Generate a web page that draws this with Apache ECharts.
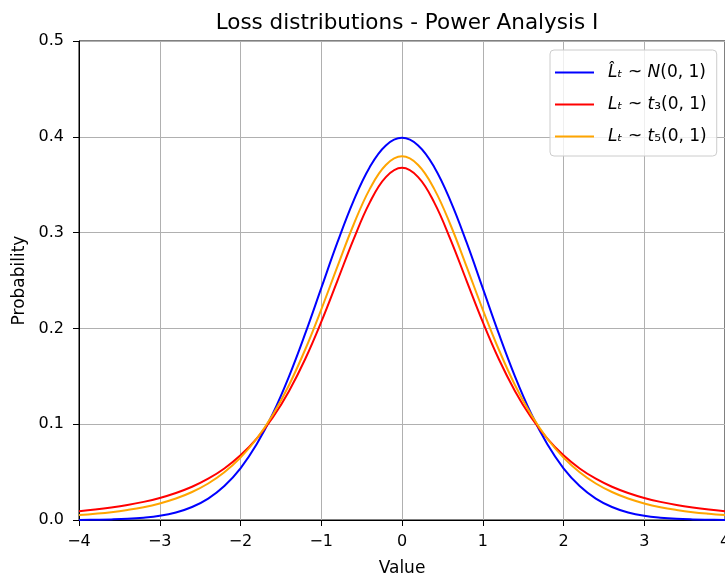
<!DOCTYPE html>
<html><head><meta charset="utf-8">
<script src="https://cdn.jsdelivr.net/npm/echarts@6/dist/echarts.min.js"></script>
<style>html,body{margin:0;padding:0;background:#fff}#c{width:725px;height:577px}</style>
</head><body><div id="c"></div>
<script>
const xValues = [-4.0,-3.8,-3.6,-3.4,-3.2,-3.0,-2.8,-2.6,-2.4,-2.2,-2.0,-1.8,-1.6,-1.4,-1.2,-1.0,-0.8,-0.6,-0.4,-0.2,0.0,0.2,0.4,0.6,0.8,1.0,1.2,1.4,1.6,1.8,2.0,2.2,2.4,2.6,2.8,3.0,3.2,3.4,3.6,3.8,4.0];
const normalHalf = [0.3989,0.3910,0.3683,0.3332,0.2897,0.2420,0.1942,0.1497,0.1109,0.0790,0.0540,0.0355,0.0224,0.0136,0.0079,0.0044,0.0024,0.0012,0.0006,0.0003,0.0001];
const t3Half = [0.3676,0.3579,0.3313,0.2930,0.2497,0.2068,0.1678,0.1345,0.1070,0.0850,0.0675,0.0538,0.0431,0.0347,0.0282,0.0230,0.0189,0.0156,0.0130,0.0109,0.0092];
const t5Half = [0.3796,0.3706,0.3454,0.3082,0.2645,0.2197,0.1777,0.1407,0.1098,0.0848,0.0651,0.0498,0.0381,0.0292,0.0224,0.0173,0.0134,0.0105,0.0082,0.0065,0.0051];
const seriesNames = ['L\u0302\u209C ~ N(0, 1)','L\u209C ~ t\u2083(0, 1)','L\u209C ~ t\u2085(0, 1)'];
const legendRich = [
  '{pad|}{i|L\u0302\u209C}{n| ~ }{i|N}{n|(0, 1)}',
  '{pad|}{i|L\u209C}{n| ~ }{i|t}{n|\u2083(0, 1)}',
  '{pad|}{i|L\u209C}{n| ~ }{i|t}{n|\u2085(0, 1)}'
];
const seriesColors = ['#0000ff','#ff0000','#ffa500'];
const xTicks = [-4,-3,-2,-1,0,1,2,3,4];
const yTicks = [0.0,0.1,0.2,0.3,0.4,0.5];

function full(half){ return half.slice(1).reverse().concat(half); }
const normalVals = full(normalHalf), t3Vals = full(t3Half), t5Vals = full(t5Half);
const allVals = [normalVals, t3Vals, t5Vals];

const chart = echarts.init(document.getElementById('c'));
const font = 'DejaVu Sans';
chart.setOption({
  animation:false,
  title:{text:'Loss distributions - Power Analysis I',left:402,top:7,textAlign:'center',
    textStyle:{fontFamily:font,fontSize:21.5,fontWeight:'normal',color:'#000'}},
  grid:{left:79,right:0,top:41,bottom:57,show:true,borderColor:'#000',borderWidth:1,
    backgroundColor:'transparent',outerBoundsMode:'none',containLabel:false},
  legend:{left:550,top:50,orient:'vertical',itemWidth:39,itemHeight:2,itemGap:15,
    backgroundColor:'rgba(255,255,255,0.8)',borderColor:'#cccccc',borderWidth:1,borderRadius:4,
    padding:[14,10,11,5],
    formatter:name=>legendRich[seriesNames.indexOf(name)],
    textStyle:{fontFamily:font,fontSize:17,color:'#000',
      rich:{
        pad:{width:9,height:20},
        i:{fontFamily:font,fontStyle:'italic',fontSize:17,color:'#000',height:20},
        n:{fontFamily:font,fontSize:17,color:'#000',height:20}
      }},
    data:seriesNames.map(n=>({name:n,icon:'rect'}))},
  xAxis:{type:'value',min:xTicks[0],max:xTicks[xTicks.length-1],interval:1,
    name:'Value',nameLocation:'middle',nameGap:40,
    nameTextStyle:{fontFamily:font,fontSize:17,color:'#000'},
    axisLine:{show:true,onZero:false,lineStyle:{color:'#000'}},
    axisTick:{show:true,length:6,lineStyle:{color:'#000'}},
    axisLabel:{fontFamily:font,fontSize:16,color:'#000',margin:14,formatter:v=>(v<0?'\u2212'+Math.abs(v):String(v))},
    splitLine:{show:true,lineStyle:{color:'#b0b0b0',width:1}}},
  yAxis:{type:'value',min:yTicks[0],max:yTicks[yTicks.length-1],interval:0.1,
    name:'Probability',nameLocation:'middle',nameGap:49,
    nameTextStyle:{fontFamily:font,fontSize:17,color:'#000'},
    axisLine:{show:true,onZero:false,lineStyle:{color:'#000'}},
    axisTick:{show:true,length:6,lineStyle:{color:'#000'}},
    axisLabel:{fontFamily:font,fontSize:16,color:'#000',margin:15,formatter:v=>v.toFixed(1)},
    splitLine:{show:true,lineStyle:{color:'#b0b0b0',width:1}}},
  series:seriesNames.map((n,i)=>({
    name:n,type:'line',showSymbol:false,smooth:0.4,
    lineStyle:{color:seriesColors[i],width:2},itemStyle:{color:seriesColors[i]},
    data:xValues.map((x,j)=>[x,allVals[i][j]])
  }))
});
</script></body></html>
